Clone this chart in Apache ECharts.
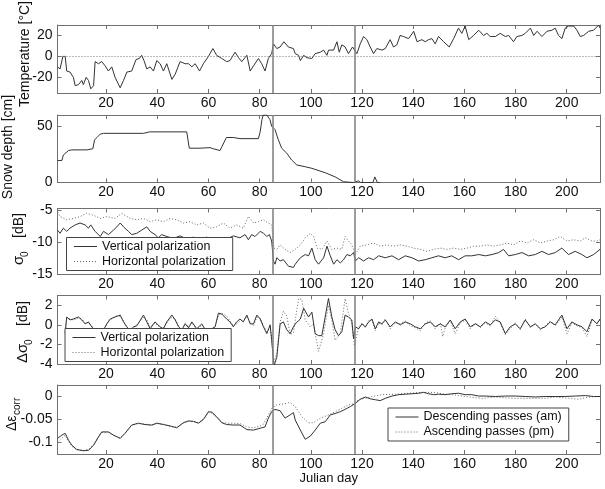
<!DOCTYPE html>
<html>
<head>
<meta charset="utf-8">
<script src="https://cdn.jsdelivr.net/npm/echarts@6/dist/echarts.min.js"></script>
<style>
  html, body { margin: 0; padding: 0; background: #fff; }
  #chart { width: 605px; height: 489px; }
</style>
</head>
<body>
<div id="chart"></div>
<script>
// ---- data (Julian day, value) ----
const dayTicks = [20, 40, 60, 80, 100, 120, 140, 160, 180, 200];
const markDays = [85, 117];
const tempTicks = [-20, 0, 20];
const snowTicks = [0, 50];
const sigmaTicks = [-15, -10, -5];
const dSigmaTicks = [-4, -2, 0, 2];
const epsTicks = [-0.1, -0.05, 0];

const temperature = [[1,-10],[2,-12],[3.1,0],[4,0],[4.6,-14],[5.9,-15],[7.2,-20],[7.9,-28],[9.2,-27],[10.5,-23],[11.1,-27],[12.2,-20],[13.1,-23],[14,-31],[15.1,-28],[15.7,-5],[17,-7],[18.3,-5],[19.6,-9],[20.9,-14],[22.2,-10],[23.5,-20],[25.5,-30],[26.8,-23],[28.1,-15],[30,-14],[31.7,-3],[33,-2],[33.9,1],[34.8,-4],[35.9,-12],[37.2,-10],[38.5,-14],[39.8,-4],[41.1,-7],[42.4,-14],[43.7,-7],[45.7,-22],[47,-17],[48.9,-5],[50.9,-7],[52.2,-7],[53.5,-10],[54.8,-7],[56.5,-14],[58,-7],[60,0],[61.7,7.5],[63.2,1],[65.2,-2],[67.1,-5],[68.4,-4],[70.4,4],[71.7,-1],[73,-5],[75,1],[76.3,-14],[77.6,-9],[79.5,-2],[80.8,-7],[82.1,-14],[83.4,-2],[84.7,2.6],[85.4,12],[86.7,7.5],[88,9],[89.5,14],[91.2,9],[93.2,7.5],[93.9,2.6],[95.2,1],[95.9,-4],[97.2,1],[98.5,-1.3],[100.4,-2],[101.7,2.6],[103.7,4],[105,6],[106.3,1],[106.9,6],[108.9,6],[110.2,14],[111.1,4],[112.1,11],[113.4,9],[114.7,2.6],[116.3,9],[118,2.6],[119.3,12],[120.6,19],[121.9,16],[123.2,9],[124.5,2.6],[125.8,7.5],[127.8,6],[129.1,7.5],[131,16],[132.3,9],[133.6,11],[134.9,20],[136.2,19],[138.2,17],[140.2,24],[141.5,14],[143.4,16],[144.7,14],[146,16],[147.3,17],[148.6,12],[149.9,19],[151.9,14],[154.1,9],[155.8,17],[157.7,27],[159,22],[160.3,29],[161.7,16],[163.6,20],[165.6,25],[167.5,20],[168.8,22],[170.1,19],[172.1,19],[174,22],[176,19],[177.3,20],[179.2,14],[180.5,19],[182.5,20],[183.8,22],[185.8,27],[187.1,20],[188.4,24],[190.3,19],[192.3,24],[194.2,25],[195.5,27],[196.8,20],[198.1,17],[199.4,27],[200.7,29],[202.7,29],[204,25],[205.3,19],[206.6,20],[208.6,24],[210.5,25],[212.5,30],[213,27]];

const snowDepth = [[1,19.5],[2.7,19.5],[3.3,24.5],[5.3,28.4],[6.6,29],[12.5,29],[14.8,30],[15.5,38],[16.4,40],[17.7,43],[19,43.7],[34.6,43.7],[37,45],[51.5,45],[52.5,30.5],[56.7,30.5],[60.6,31],[61.9,30],[64.5,28.4],[67,40],[69.7,40],[72.3,39],[79.5,39],[80.2,45],[80.9,56],[81.4,60],[82.8,60],[84,56],[84.7,50],[86,47],[87.3,38],[88.6,30.5],[90.6,26],[92.5,20],[94.5,15.6],[97.8,14],[100.4,12.6],[105.6,8.7],[109.5,5],[112.8,0.6],[116.7,0],[118.6,1.5],[119.5,0],[124.3,0],[125,5],[126,0],[127,0]];

const sigmaV = [[1,-8.1],[2,-8.6],[3.3,-7.8],[4.6,-8.3],[5.9,-7.8],[7.9,-7.3],[9.8,-7.0],[11.8,-7.3],[13.1,-7.8],[14,-7.3],[15.7,-8.3],[17.7,-9.1],[19,-8.3],[20.9,-8.8],[22.9,-8.1],[24.2,-7.6],[25.5,-7.0],[26.8,-7.6],[28.7,-8.3],[30,-8.8],[32,-8.6],[33.9,-8.1],[35.9,-7.6],[37.2,-8.3],[39.1,-8.8],[40.4,-9.3],[41.7,-8.8],[43.7,-9.1],[46.3,-9.4],[48.9,-9.0],[51.5,-9.5],[54.1,-9.2],[56.7,-9.6],[59.3,-9.2],[61.9,-9.8],[64.5,-9.4],[67.1,-9.5],[69.7,-9.0],[72.3,-9.3],[74.3,-8.8],[75.6,-9.6],[76.9,-8.8],[78.2,-9.1],[80.2,-8.3],[81.5,-8.6],[82.8,-9.1],[83.8,-8.8],[84.7,-9.8],[85.4,-12.9],[86,-13.4],[86.7,-12.4],[88,-12.9],[89.3,-12.7],[91.2,-13.7],[93.2,-13.9],[93.9,-13.4],[95.9,-12.4],[97.8,-11.9],[99.1,-12.1],[100.4,-10.9],[101.7,-12.7],[103,-13.4],[105,-12.4],[106.3,-10.6],[107.6,-12.1],[108.9,-13.4],[110.2,-12.7],[111.5,-13.2],[112.8,-12.7],[114.1,-11.9],[115.4,-12.1],[116.7,-11.6],[117.4,-12.9],[118.7,-12.4],[120.6,-12.9],[122.6,-12.4],[124.5,-12.7],[126.5,-12.1],[129.1,-12.4],[131.7,-12.1],[134.3,-12.7],[136.9,-12.1],[139.5,-12.4],[142.1,-12.9],[144.7,-12.7],[147.3,-12.4],[149.9,-12.1],[152.5,-12.4],[155.1,-12.1],[157.7,-12.7],[160.3,-12.1],[162.9,-12.1],[165.6,-11.9],[168.2,-12.1],[170.8,-11.9],[173.4,-11.6],[175.3,-11.1],[177.3,-12.1],[179.9,-11.9],[182.5,-11.6],[185.1,-12.1],[187.7,-11.9],[190.3,-11.4],[192.9,-11.9],[195.5,-11.6],[198.1,-10.9],[200.7,-11.9],[203.3,-11.4],[205.9,-11.9],[207.9,-12.4],[210.5,-11.9],[213,-11.1]];

const sigmaH = [[1,-5.3],[2,-6.0],[4.6,-6.5],[7.2,-6.3],[9.8,-6.0],[12.4,-5.5],[15.1,-5.8],[17.7,-6.3],[20.3,-6.0],[23.5,-6.3],[26.1,-5.5],[29.4,-6.3],[32,-6.5],[34.6,-6.3],[37.2,-6.8],[39.8,-6.5],[42.4,-6.8],[45,-6.3],[47.6,-6.5],[50.2,-7.0],[52.8,-6.8],[55.4,-7.3],[58,-7.0],[60.6,-7.8],[63.2,-7.6],[65.8,-7.0],[68.4,-7.8],[71,-7.3],[73.6,-7.8],[75.6,-6.0],[77.6,-7.0],[79.5,-6.8],[81.5,-6.5],[83.4,-7.0],[84.7,-7.3],[85.6,-10.9],[86.7,-11.1],[88,-10.4],[89.9,-11.1],[91.9,-11.6],[93.9,-11.1],[95.9,-10.4],[97.8,-9.3],[99.8,-8.6],[101.1,-9.1],[102.4,-10.9],[104.3,-11.1],[106.3,-9.8],[108.2,-11.1],[110.2,-10.9],[112.1,-11.1],[113.4,-9.1],[114.7,-9.8],[116,-10.4],[117.4,-11.9],[119.3,-10.6],[121.9,-10.4],[124.5,-10.1],[127.1,-10.6],[129.7,-10.4],[132.3,-10.6],[134.9,-10.4],[137.5,-10.6],[140.2,-10.9],[142.8,-11.1],[145.4,-11.4],[148,-11.1],[150.6,-10.9],[153.2,-11.1],[155.8,-10.9],[158.4,-11.1],[161,-10.9],[163.6,-10.6],[166.2,-10.6],[168.8,-10.4],[171.4,-10.6],[174,-10.4],[176.6,-10.1],[179.2,-10.4],[181.9,-9.8],[184.5,-10.1],[187.1,-9.6],[189.7,-10.1],[192.3,-9.8],[194.9,-9.6],[197.5,-9.1],[200.1,-9.8],[202.7,-9.6],[205.3,-9.8],[207.3,-9.3],[209.9,-9.8],[211.8,-9.8],[213,-9.6]];

const dSigmaV = [[4,-0.8],[4.6,0.8],[5.9,0.5],[7.2,0.6],[9.2,0.8],[10.5,0.5],[11.8,0.1],[13.1,0.3],[14.4,-0.2],[15.7,-0.7],[17.7,-1.2],[19,-0.5],[20.3,0.1],[21.6,0.6],[23.5,0.8],[25.5,1.0],[26.8,0.3],[28.1,-0.2],[29.4,-0.6],[30.7,-0.2],[32,-0.1],[34.6,1.0],[35.9,0.3],[37.2,-0.4],[39.1,0.3],[41.1,-0.2],[42.4,-0.4],[43.7,0.3],[45.7,1.0],[47,0.5],[48.3,-0.2],[49.6,-0.5],[50.9,0.1],[52.2,-0.3],[53.5,0.3],[55.4,-0.4],[57.4,0.1],[58.7,-0.5],[60,-0.8],[61.3,-0.4],[62.6,-0.2],[63.9,1.2],[65.2,1.1],[67.1,0.6],[68.4,0.3],[69.7,-0.2],[71,0.3],[72.3,0.6],[73.6,0.3],[75,1.0],[76.3,0.1],[77.6,0.1],[78.9,1.0],[80.2,0.6],[81.5,-0.2],[82.8,-0.9],[84.1,0],[84.7,-1.6],[85.6,-4.2],[86.7,-3.3],[88,0.1],[89.3,0.3],[90.6,-0.5],[91.9,-0.9],[93.2,-0.2],[93.9,0.1],[95.9,0.6],[97.2,1.7],[99.1,0.8],[100.4,1.3],[101.7,-0.9],[103,-1.1],[104.3,-1.1],[105.6,0.8],[106.9,2.7],[108.2,0.8],[109.5,-0.5],[110.8,-1.1],[112.1,-0.7],[113.4,1.0],[114.7,0.8],[116,0.5],[116.7,-1.4],[117.4,-0.2],[118.7,-0.4],[120,0.1],[121.3,-0.2],[122.6,0.3],[123.9,0.6],[125.2,-0.4],[126.5,0.3],[127.8,0.1],[129.1,0.5],[131,-0.2],[133,0.3],[135,0],[136.9,0.3],[138.9,0.1],[140.8,-0.2],[142.8,-0.4],[144.7,0.1],[146.7,0.3],[148.6,-0.2],[150.6,0.1],[152.5,-0.2],[154.5,0.5],[156.4,-0.4],[158.4,0.3],[160.3,0.6],[162.3,-0.2],[164.3,0.1],[166.2,-0.2],[168.2,0.3],[170.1,0],[172.1,0.5],[174,0.3],[176,-0.9],[177.9,-0.2],[179.9,0.1],[181.8,-0.4],[183.8,0.5],[185.8,-0.2],[187.7,0.1],[189.7,-0.4],[191.6,-0.2],[193.6,0.3],[195.5,0],[198.1,1.0],[200.1,-0.4],[202,0.3],[204,0],[206,-0.2],[207.9,-0.7],[209.9,0.6],[211.8,0.1],[213,0.6]];

const dSigmaH = [[4,-0.9],[4.6,0.7],[5.9,0.6],[7.2,0.5],[9.2,0.7],[10.5,0.6],[11.8,0.2],[13.1,0.2],[14.4,-0.1],[15.7,-0.8],[17.7,-1.1],[19,-0.6],[20.3,0.2],[21.6,0.5],[23.5,0.9],[25.5,0.9],[26.8,0.4],[28.1,-0.3],[29.4,-0.5],[30.7,-0.3],[32,0.0],[34.6,0.8],[35.9,0.5],[37.2,-0.2],[39.1,0.2],[41.1,-0.3],[42.4,-0.3],[43.7,0.2],[45.7,0.8],[47,0.6],[48.3,-0.1],[49.6,-0.6],[50.9,0.2],[52.2,-0.2],[53.5,0.2],[55.4,-0.5],[57.4,0.0],[58.7,-0.4],[60,-0.9],[61.3,-0.5],[62.6,-0.1],[63.9,1.0],[65.2,1.2],[67.1,0.9],[68.4,0.4],[69.7,-0.1],[71,0.1],[72.3,0.4],[73.6,0.5],[75,0.8],[76.3,0.3],[77.6,-0.1],[78.9,0.8],[80.2,0.7],[81.5,-0.1],[82.8,-0.7],[84.1,-0.2],[84.7,-1.4],[85.6,-3.8],[86.7,-2.9],[88,0.3],[89.3,1.4],[90.6,0.9],[91.9,-1.0],[93.2,-0.8],[94.5,1.5],[95.3,2.7],[96.5,2.6],[97.8,0.5],[99.8,-0.2],[101,0.1],[103,-2.7],[105,-0.9],[106.9,2.0],[108.2,0.5],[109.5,-1.6],[111.5,-0.9],[113.4,2.7],[114.7,1.2],[116,0.2],[117,-2.1],[118.7,-0.2],[120,0.2],[121.3,-0.3],[122.6,0.4],[123.9,0.5],[125.2,-0.6],[126.5,0.2],[127.8,0.0],[129.1,0.6],[131,-0.4],[133,0.2],[135,0.1],[136.9,0.4],[138.9,-0.1],[140.8,-0.3],[142.8,-0.6],[144.7,0.2],[146.7,0.4],[148.6,-0.4],[150.6,0.2],[151.5,-1.2],[152.5,-0.3],[154.5,0.4],[156.4,-0.9],[158.4,0.2],[160.3,0.5],[162.3,-0.4],[164.3,0.2],[166.2,-0.3],[168.2,0.2],[170.1,-0.1],[172.1,0.9],[174,0.2],[176,-1.0],[177.9,-0.4],[179.9,0.2],[181.8,-0.5],[183.8,0.6],[185.8,-0.3],[187.7,0.1],[189.7,-0.5],[191.6,-0.1],[193.6,0.4],[195.5,-0.1],[198.1,0.8],[200.1,-0.9],[202,0.2],[204,-0.1],[206,-0.3],[207.9,-1.2],[209.9,0.5],[211.8,0.2],[213,0.5]];

const epsDesc = [[1,-0.091],[2.7,-0.084],[4,-0.080],[5.3,-0.095],[6.6,-0.106],[8.5,-0.115],[11.1,-0.118],[13.1,-0.117],[15.1,-0.106],[17,-0.088],[18.3,-0.077],[20.9,-0.077],[22.9,-0.084],[25.5,-0.091],[27.4,-0.080],[30,-0.062],[32.6,-0.058],[35.2,-0.061],[37.8,-0.062],[39.8,-0.058],[42.4,-0.061],[45,-0.064],[47.6,-0.068],[50.2,-0.057],[52.2,-0.053],[54.1,-0.054],[56.1,-0.058],[58,-0.050],[60,-0.033],[61.3,-0.034],[63.2,-0.044],[65.2,-0.057],[67.1,-0.061],[69.7,-0.062],[72.3,-0.062],[75,-0.072],[77.6,-0.073],[80.2,-0.069],[82.1,-0.066],[83.4,-0.047],[84.7,-0.033],[86,-0.028],[88,-0.031],[89.9,-0.047],[91.9,-0.040],[93.2,-0.035],[93.9,-0.051],[95.9,-0.073],[97.8,-0.093],[99.8,-0.086],[101.7,-0.073],[103.7,-0.058],[105.6,-0.055],[107.6,-0.040],[109.5,-0.037],[111.5,-0.033],[113.4,-0.028],[115.4,-0.022],[117.4,-0.015],[119.3,-0.006],[121.3,-0.001],[123.2,-0.005],[125.2,-0.007],[127.1,-0.009],[129.1,-0.004],[131.7,0.001],[134.3,0.004],[136.9,0.005],[139.5,0.006],[142.1,0.007],[144.1,0.009],[146,0.006],[148,0.004],[149.9,0.005],[152.5,0.004],[155.1,0.006],[157.7,0.007],[160.3,0.004],[162.9,0.004],[165.6,0.001],[168.2,0.001],[172.1,0],[176,0.001],[179.9,0.001],[183.8,0],[187.7,-0.001],[191.6,0],[195.5,0],[199.4,0],[203.3,0.001],[207.3,0.002],[210.5,0],[213,0]];

const epsAsc = [[1,-0.099],[2.7,-0.090],[4,-0.084],[5.3,-0.098],[6.6,-0.108],[8.5,-0.116],[11.1,-0.117],[13.1,-0.115],[15.1,-0.104],[17,-0.087],[18.3,-0.078],[20.9,-0.078],[22.9,-0.085],[25.5,-0.090],[27.4,-0.079],[30,-0.063],[32.6,-0.059],[35.2,-0.060],[37.8,-0.063],[39.8,-0.059],[42.4,-0.060],[45,-0.065],[47.6,-0.067],[50.2,-0.058],[52.2,-0.054],[54.1,-0.055],[56.1,-0.057],[58,-0.049],[60,-0.035],[61.3,-0.036],[63.2,-0.046],[65.2,-0.056],[67.1,-0.058],[69.7,-0.058],[72.3,-0.059],[75,-0.066],[77.6,-0.068],[80.2,-0.064],[81.5,-0.060],[83.4,-0.040],[84.7,-0.026],[86.7,-0.018],[89.3,-0.016],[91.9,-0.013],[93.9,-0.022],[96.5,-0.044],[99.1,-0.057],[101,-0.057],[103.7,-0.047],[107,-0.040],[109.5,-0.033],[112.1,-0.026],[114.7,-0.018],[116.7,-0.016],[118.7,-0.007],[121.3,-0.004],[123.9,0],[127.8,0.004],[133,0.005],[138.2,0.007],[143.4,0.009],[148.6,0.009],[151.2,0.006],[155.1,0.004],[159,0.001],[161.6,-0.001],[166.9,-0.004],[172.1,-0.001],[178.6,-0.004],[185.1,-0.004],[191.6,-0.004],[195.5,-0.001],[200.7,-0.004],[204.6,-0.006],[208.6,-0.001],[213,0]];

// ---- styling ----
const FONT = '"Liberation Sans", Arial, sans-serif';
const FRAME = '#707070';
const INK = '#333';
const TEXT = '#111';
const DOT = [1, 2];

const panels = [
  { top: 25,    height: 68,   min: -35,    max: 30,    ticks: tempTicks },
  { top: 115,   height: 67.5, min: 0,      max: 60,    ticks: snowTicks },
  { top: 208.5, height: 66,   min: -15,    max: -4.75, ticks: sigmaTicks },
  { top: 295.5, height: 68.5, min: -4,     max: 3,     ticks: dSigmaTicks },
  { top: 385,   height: 69,   min: -0.125, max: 0.025, ticks: epsTicks },
];

const grid = [], xAxis = [], yAxis = [];
panels.forEach((p, i) => {
  grid.push({ left: 57.5, width: 542.5, top: p.top, height: p.height });
  const xBase = {
    type: 'value', gridIndex: i, min: 1, max: 213,
    splitLine: { show: false },
    axisLine: { show: true, onZero: false, lineStyle: { color: FRAME } },
    axisTick: { show: true, inside: true, length: 4, customValues: dayTicks, lineStyle: { color: FRAME } },
  };
  xAxis.push(Object.assign({}, xBase, {
    position: 'bottom',
    axisLabel: { show: true, customValues: dayTicks, color: TEXT, fontSize: 14, fontFamily: FONT, margin: 3 },
  }, i === 4 ? {
    name: 'Julian day', nameLocation: 'middle', nameGap: 18,
    nameTextStyle: { color: TEXT, fontSize: 13, fontFamily: FONT },
  } : {}));
  xAxis.push(Object.assign({}, xBase, { position: 'top', axisLabel: { show: false } }));
  const yBase = {
    type: 'value', gridIndex: i, min: p.min, max: p.max,
    splitLine: { show: false },
    axisLine: { show: true, onZero: false, lineStyle: { color: FRAME } },
    axisTick: { show: true, inside: true, length: 4, customValues: p.ticks, lineStyle: { color: FRAME } },
  };
  yAxis.push(Object.assign({}, yBase, {
    position: 'left',
    axisLabel: { show: true, customValues: p.ticks, color: TEXT, fontSize: 14, fontFamily: FONT, margin: 5 },
  }));
  yAxis.push(Object.assign({}, yBase, { position: 'right', axisLabel: { show: false } }));
});

function lineSeries(name, data, i, dotted) {
  const color = dotted ? '#666' : INK;
  return {
    type: 'line', name, data,
    xAxisIndex: 2 * i, yAxisIndex: 2 * i,
    symbol: 'none', animation: false, silent: true,
    itemStyle: { color },
    lineStyle: { color, width: 1, type: dotted ? DOT : 'solid' },
    z: dotted ? 2 : 3,
  };
}

function marks(extra) {
  const data = markDays.map(d => ({ xAxis: d }));
  return {
    silent: true, symbol: ['none', 'none'], animation: false,
    label: { show: false },
    lineStyle: { color: '#858585', width: 1.6, type: 'solid' },
    data: data.concat(extra || []),
  };
}

const series = [
  Object.assign(lineSeries('Temperature', temperature, 0, false), {
    markLine: marks([{ yAxis: 0, lineStyle: { color: '#777', width: 1, type: DOT } }]),
  }),
  Object.assign(lineSeries('Snow depth', snowDepth, 1, false), { markLine: marks() }),
  Object.assign(lineSeries('Vertical polarization', sigmaV, 2, false), { markLine: marks() }),
  lineSeries('Horizontal polarization', sigmaH, 2, true),
  Object.assign(lineSeries('Vertical polarization', dSigmaV, 3, false), { markLine: marks() }),
  lineSeries('Horizontal polarization', dSigmaH, 3, true),
  Object.assign(lineSeries('Descending passes (am)', epsDesc, 4, false), { markLine: marks() }),
  lineSeries('Ascending passes (pm)', epsAsc, 4, true),
];

const legendBase = {
  orient: 'vertical', selectedMode: false,
  itemWidth: 23, itemHeight: 10, itemGap: 1,
  padding: [2, 7, 2, 7],
  borderColor: '#444', borderWidth: 1, backgroundColor: '#fff',
  textStyle: { color: TEXT, fontSize: 12.5, fontFamily: FONT, lineHeight: 14 },
  itemStyle: { opacity: 0, borderWidth: 0 },
  lineStyle: { width: 1 },
};
const legend = [
  Object.assign({}, legendBase, { left: 66.5, top: 237.5, data: ['Vertical polarization', 'Horizontal polarization'] }),
  Object.assign({}, legendBase, { left: 65, top: 328.5, data: ['Vertical polarization', 'Horizontal polarization'] }),
  Object.assign({}, legendBase, { left: 388, top: 408, data: ['Descending passes (am)', 'Ascending passes (pm)'] }),
];

// rotated y-axis titles (text read bottom to top)
function vLabel(x, y, parts) {
  return {
    type: 'group', x, y, rotation: Math.PI / 2, silent: true,
    children: parts.map(p => ({
      type: 'text', x: p[1], y: p[2],
      style: {
        text: p[0], fill: TEXT, fontSize: p[3], fontFamily: FONT,
        textAlign: p[4] || 'left', align: p[4] || 'left',
        textVerticalAlign: 'middle', verticalAlign: 'middle',
      },
    })),
  };
}

const graphic = [
  vLabel(25, 54, [['Temperature [°C]', 0, 0, 14, 'center']]),
  vLabel(8.5, 147, [['Snow depth [cm]', 0, 0, 14, 'center']]),
  vLabel(19, 265, [['σ', 0, 0, 15], ['0', 8, 6, 10], ['[dB]', 27, 0, 14]]),
  vLabel(23, 363, [['Δσ', 0, 0, 15], ['0', 18, 6, 10], ['[dB]', 37, 0, 14]]),
  vLabel(12, 431, [['Δε', 0, 0, 14], ['corr', 16, 5, 10]]),
];

const chart = echarts.init(document.getElementById('chart'), null, { renderer: 'canvas' });
chart.setOption({
  animation: false,
  backgroundColor: '#fff',
  grid, xAxis, yAxis, series, legend, graphic,
});
</script>
</body>
</html>
